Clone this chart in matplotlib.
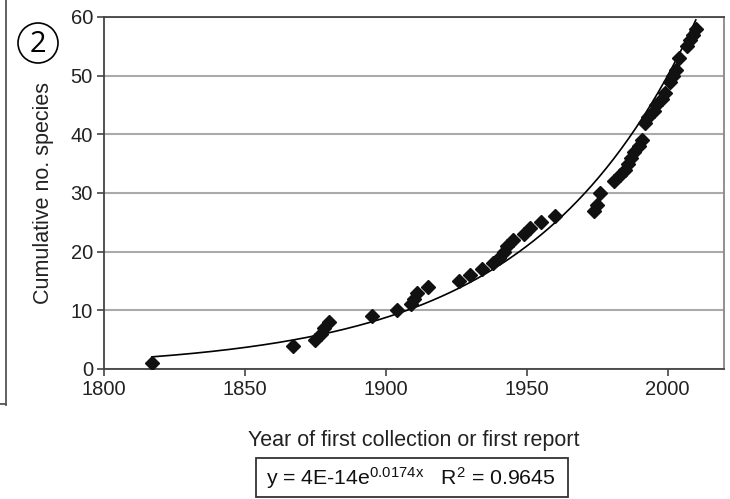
import numpy as np
import matplotlib
matplotlib.use("Agg")
from matplotlib import pyplot as plt
from matplotlib.patches import Circle, Rectangle
from matplotlib.lines import Line2D

# -----------------------------------------------------------------------------------------
# Data

years = [1817, 1867, 1875, 1877, 1878, 1880, 1895, 1904, 1909, 1910, 1911, 1915,
         1926, 1930, 1934, 1938, 1940, 1942, 1943, 1945, 1949, 1951, 1955, 1960,
         1974, 1975, 1976, 1981, 1983, 1985, 1986, 1987, 1988, 1990, 1991,
         1992, 1993, 1995, 1996, 1998, 1999, 2001, 2002, 2003, 2004, 2007,
         2008, 2009, 2010]
species = [1, 4, 5, 6, 7, 8, 9, 10, 11, 12, 13, 14,
           15, 16, 17, 18, 19, 20, 21, 22, 23, 24, 25, 26,
           27, 28, 30, 32, 33, 34, 35, 36, 37, 38, 39,
           42, 43, 44, 45, 46, 47, 49, 50, 51, 53, 55,
           56, 57, 58]

x_ticks = [1800, 1850, 1900, 1950, 2000]
y_ticks = [0, 10, 20, 30, 40, 50, 60]

# exponential trendline y = a * exp(b * x), shown rounded as 4E-14 in the label
fit_a = 3.85e-14
fit_b = 0.0174
equation = "y = 4E-14e$^{0.0174x}$   R$^{2}$ = 0.9645"

# -----------------------------------------------------------------------------------------
# Plot

plt.rcParams['font.family'] = ['Liberation Sans', 'DejaVu Sans']
plt.rcParams['mathtext.default'] = 'regular'

fig = plt.figure(figsize=(7.3, 4.99), dpi=100)
ax = fig.add_axes([104 / 730, 1 - 369 / 499, 620 / 730, 352 / 499])

xs = np.linspace(min(years), max(years), 300)
ax.plot(xs, fit_a * np.exp(fit_b * xs), color='black', lw=1.2, zorder=3)
ax.plot(years, species, 'D', color='#111111', markersize=7.5, zorder=4)

ax.set_xlim(1800, 2020)
ax.set_ylim(0, 60)
ax.set_xticks(x_ticks)
ax.set_yticks(y_ticks)
ax.yaxis.grid(True, color='#aaaaaa', lw=1.5)
ax.set_axisbelow(True)
ax.tick_params(direction='out', length=5, width=1.2, color='#444444',
               labelsize=14.5, labelcolor='#222222')
ax.tick_params(axis='x', pad=3)
ax.tick_params(axis='y', pad=3)
for side in ['left', 'bottom', 'top']:
    ax.spines[side].set_color('#444444')
    ax.spines[side].set_linewidth(1.3)
ax.spines['right'].set_color('#888888')
ax.spines['right'].set_linewidth(1.3)

ax.set_xlabel("Year of first collection or first report", fontsize=15.5,
              color='#222222', labelpad=22)
ax.set_ylabel("Cumulative no. species", fontsize=15.5, color='#222222', labelpad=12)

# panel number in a circle (pixel-based so it stays round)
fig.patches.append(Circle((0.38, (499 - 43) / 100), 0.20, transform=fig.dpi_scale_trans,
                          fill=False, ec='black', lw=1.2))
fig.text(38 / 730, 1 - 44 / 499, "2", fontsize=21, family=['Open Sans', 'DejaVu Sans'],
         ha='center', va='center')

# equation box
fig.patches.append(Rectangle((256 / 730, 1 - 497 / 499), 312 / 730, 39 / 499,
                             transform=fig.transFigure, fill=False, ec='#333333', lw=1.3))
fig.text(411 / 730, 1 - 478 / 499, equation, fontsize=15.3, ha='center', va='center',
         color='#111111')

# edge of the neighbouring panel
fig.lines.append(Line2D([6 / 730, 6 / 730], [1 - 405 / 499, 1], transform=fig.transFigure,
                        color='#555555', lw=1.3))
fig.lines.append(Line2D([0, 6 / 730], [1 - 404 / 499, 1 - 404 / 499],
                        transform=fig.transFigure, color='#555555', lw=1.3))

fig.savefig("out.png", dpi=100)
